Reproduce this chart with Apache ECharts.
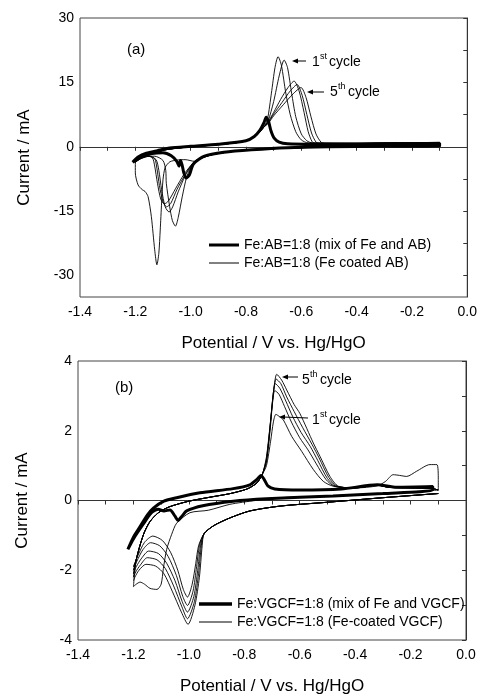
<!DOCTYPE html>
<html>
<head>
<meta charset="utf-8">
<script src="https://cdn.jsdelivr.net/npm/echarts@6/dist/echarts.min.js"></script>
<style>
  html, body { margin: 0; padding: 0; background: #fff; }
  #main { width: 480px; height: 696px; }
</style>
</head>
<body>
<div id="main"></div>
<script>
var FONT = "'Liberation Sans', Arial, sans-serif";

// tick labels
var potentialTicks = [-1.4, -1.2, -1.0, -0.8, -0.6, -0.4, -0.2, 0.0];
var potentialMinor = [-1.4, -1.3, -1.2, -1.1, -1.0, -0.9, -0.8, -0.7, -0.6, -0.5, -0.4, -0.3, -0.2, -0.1, 0.0];
var aCurrentTicks = [-30, -15, 0, 15, 30];
var aCurrentMinor = [-30, -22.5, -15, -7.5, 0, 7.5, 15, 22.5, 30];
var bCurrentTicks = [-4, -2, 0, 2, 4];
var bCurrentMinor = [-4, -3, -2, -1, 0, 1, 2, 3, 4];

var aNames = ['Fe:AB=1:8 (mix of Fe and AB)', 'Fe:AB=1:8 (Fe coated AB)'];
var bNames = ['Fe:VGCF=1:8 (mix of Fe and VGCF)', 'Fe:VGCF=1:8 (Fe-coated VGCF)'];

// ---------- (a) Fe:AB, [potential V, current mA] ----------
var aMix = [[-1.21,-3.6],[-1.19,-2.4],[-1.16,-1.5],[-1.12,-0.9],[-1.076,-0.3],[-1.0,0.1],[-0.9,0.6],
  [-0.8,1.4],[-0.77,2.4],[-0.75,3.8],[-0.735,5.6],[-0.727,6.9],[-0.718,5.8],[-0.71,3.8],[-0.698,2.0],
  [-0.68,1.1],[-0.65,0.7],[-0.55,0.6],[-0.35,0.6],[-0.1,0.8],[-0.1,0.2],[-0.3,0.1],[-0.5,0.0],
  [-0.65,-0.2],[-0.78,-0.7],[-0.88,-1.3],[-0.95,-2.2],[-0.99,-4.0],[-1.004,-6.5],[-1.016,-7.3],
  [-1.025,-6.0],[-1.031,-4.2],[-1.037,-3.2],[-1.042,-4.5],[-1.05,-3.4],[-1.07,-2.1],[-1.1,-1.4],
  [-1.14,-1.6],[-1.18,-2.4],[-1.21,-3.6]];

var aLowerBranch = [[-0.1,0.3],[-0.3,0.15],[-0.5,-0.05],[-0.65,-0.3],[-0.75,-0.6],[-0.85,-1.1],
  [-0.92,-1.8],[-0.96,-2.6],[-0.985,-3.4]];
var aUpperBranch = [[-1.2,-3.6],[-1.185,-2.6],[-1.16,-1.7],[-1.12,-1.0],[-1.06,-0.4],[-1.0,0.0],
  [-0.9,0.5],[-0.82,1.1],[-0.78,2.0],[-0.755,3.2],[-0.735,4.6]];
var aTail = [[-0.4,0.8],[-0.25,0.9],[-0.1,0.9],[-0.1,0.3]];

var aCath1 = [[-1.02,-3.0],[-1.05,-3.1],[-1.075,-3.5],[-1.092,-4.8],[-1.1,-7.7],[-1.105,-13.1],
  [-1.11,-19.4],[-1.115,-24.8],[-1.122,-27.5],[-1.13,-24],[-1.142,-16.3],[-1.154,-11.6],
  [-1.165,-10.4],[-1.175,-10.0],[-1.19,-8.9],[-1.2,-6.1]];
var aCath2 = [[-1.0,-4.8],[-1.015,-7.2],[-1.03,-11.5],[-1.045,-16.5],[-1.055,-18.5],[-1.066,-17.2],
  [-1.076,-13.9],[-1.088,-8.5],[-1.09,-5.5],[-1.1,-3.2],[-1.13,-2.2],[-1.16,-2.3],[-1.19,-3.0]];
var aCath3 = [[-1.0,-4.6],[-1.02,-6.8],[-1.045,-10.5],[-1.065,-14.0],[-1.078,-15.2],[-1.092,-14],
  [-1.105,-10],[-1.115,-5.5],[-1.125,-3.0],[-1.15,-2.2],[-1.18,-2.8]];
var aCath4 = [[-1.0,-4.5],[-1.02,-6.5],[-1.05,-10],[-1.072,-13.2],[-1.087,-14.0],[-1.1,-12.8],
  [-1.113,-9],[-1.122,-5],[-1.13,-2.8],[-1.155,-2.1],[-1.18,-2.7]];
var aCath5 = [[-1.0,-4.4],[-1.025,-6.5],[-1.055,-9.8],[-1.08,-12.6],[-1.095,-13.3],[-1.108,-12.2],
  [-1.12,-8.5],[-1.13,-4.5],[-1.138,-2.6],[-1.16,-2.1],[-1.185,-2.8]];

var aAnod1 = [[-0.72,6.0],[-0.70,10.5],[-0.68,16.5],[-0.662,20.2],[-0.65,18.5],[-0.635,12.5],
  [-0.62,7.0],[-0.6,3.0],[-0.58,1.4],[-0.56,0.9]];
var aAnod2 = [[-0.722,6.5],[-0.708,12.5],[-0.695,18.5],[-0.684,21.0],[-0.672,19.0],[-0.656,12.5],
  [-0.64,7.5],[-0.62,3.5],[-0.6,1.6],[-0.575,0.9]];
var aAnod3 = [[-0.72,5.8],[-0.70,8.0],[-0.675,11.0],[-0.648,13.8],[-0.626,15.3],[-0.608,13.0],
  [-0.59,8.0],[-0.575,3.5],[-0.561,1.2],[-0.55,0.8]];
var aAnod4 = [[-0.72,5.6],[-0.70,7.6],[-0.67,10.3],[-0.64,13.0],[-0.615,14.5],[-0.597,12.0],
  [-0.58,7.5],[-0.563,3.2],[-0.547,1.1],[-0.535,0.8]];
var aAnod5 = [[-0.72,5.4],[-0.70,7.2],[-0.665,9.8],[-0.63,12.3],[-0.601,13.8],[-0.583,11.5],
  [-0.565,7.0],[-0.547,3.0],[-0.529,1.1],[-0.515,0.8]];

// ---------- (b) Fe:VGCF ----------
var bMix = [[-1.22,-1.4],[-1.2,-1.05],[-1.176,-0.75],[-1.15,-0.42],[-1.128,-0.22],[-1.09,-0.02],
  [-1.044,0.08],[-0.96,0.22],[-0.84,0.34],[-0.78,0.45],[-0.755,0.6],[-0.74,0.72],[-0.728,0.6],
  [-0.715,0.42],[-0.69,0.33],[-0.6,0.3],[-0.45,0.33],[-0.32,0.45],[-0.25,0.38],[-0.12,0.4],
  [-0.12,0.3],[-0.3,0.2],[-0.48,0.13],[-0.72,0.05],[-0.84,-0.02],[-0.95,-0.15],[-1.008,-0.3],
  [-1.025,-0.45],[-1.039,-0.57],[-1.05,-0.45],[-1.068,-0.27],[-1.09,-0.3],[-1.11,-0.25],
  [-1.135,-0.35],[-1.165,-0.68],[-1.2,-1.1],[-1.22,-1.4]];

var bFirstSweep = [[-0.1,0.3],[-0.3,0.2],[-0.5,0.13],[-0.671,0.08],[-0.76,0.0],[-0.852,-0.11],
  [-0.93,-0.28],[-0.996,-0.35],[-1.044,-0.65],[-1.062,-0.97],[-1.08,-1.4],[-1.092,-1.95],
  [-1.1,-2.4],[-1.115,-2.55],[-1.14,-2.52],[-1.16,-2.4],[-1.176,-2.34],[-1.19,-2.4],[-1.2,-2.47]];
var bLowerBranch = [[-0.1,0.2],[-0.3,0.08],[-0.5,-0.05],[-0.67,-0.16],[-0.78,-0.3],[-0.852,-0.5],
  [-0.91,-0.72],[-0.945,-0.95]];
var bUpperBranch = [[-1.19,-1.7],[-1.175,-1.25],[-1.16,-0.9],[-1.14,-0.6],[-1.11,-0.35],
  [-1.07,-0.18],[-1.0,-0.02],[-0.92,0.1],[-0.85,0.2],[-0.79,0.33],[-0.755,0.5],[-0.735,0.75]];

var bCath2 = [[-0.965,-1.3],[-0.975,-1.8],[-0.988,-2.4],[-1.005,-2.77],[-1.02,-2.55],[-1.04,-2.0],
  [-1.065,-1.5],[-1.095,-1.15],[-1.13,-1.02],[-1.16,-1.2],[-1.185,-1.6],[-1.2,-1.9]];
var bCath3 = [[-0.962,-1.3],[-0.972,-1.9],[-0.985,-2.6],[-1.005,-3.01],[-1.022,-2.75],[-1.045,-2.15],
  [-1.075,-1.6],[-1.105,-1.3],[-1.138,-1.21],[-1.165,-1.4],[-1.188,-1.75],[-1.2,-2.0]];
var bCath4 = [[-0.958,-1.3],[-0.968,-2.0],[-0.982,-2.75],[-1.005,-3.2],[-1.024,-2.9],[-1.05,-2.3],
  [-1.08,-1.8],[-1.11,-1.52],[-1.145,-1.45],[-1.17,-1.65],[-1.19,-1.9],[-1.2,-2.1]];
var bCath5 = [[-0.955,-1.3],[-0.965,-2.1],[-0.98,-2.9],[-1.005,-3.39],[-1.025,-3.05],[-1.055,-2.45],
  [-1.085,-1.95],[-1.115,-1.7],[-1.15,-1.64],[-1.175,-1.85],[-1.192,-2.05],[-1.2,-2.2]];
var bCathLast = [[-0.952,-1.3],[-0.962,-2.2],[-0.978,-3.0],[-1.003,-3.55],[-1.027,-3.2],[-1.06,-2.6],
  [-1.09,-2.1],[-1.12,-1.88],[-1.155,-1.83],[-1.18,-2.0],[-1.195,-2.2],[-1.2,-2.3]];

var bAnod1 = [[-0.72,1.0],[-0.705,1.7],[-0.695,2.25],[-0.686,2.47],[-0.672,2.4],[-0.659,2.31],
  [-0.629,1.84],[-0.593,1.41],[-0.551,0.89],[-0.515,0.55],[-0.479,0.41]];
var bAnod2 = [[-0.72,1.1],[-0.707,2.0],[-0.698,2.8],[-0.69,3.15],[-0.675,3.05],[-0.655,2.7],
  [-0.63,2.25],[-0.6,1.8],[-0.57,1.45],[-0.54,1.05],[-0.505,0.6],[-0.475,0.41]];
var bAnod3 = [[-0.72,1.15],[-0.707,2.1],[-0.697,2.95],[-0.688,3.35],[-0.672,3.22],[-0.65,2.85],
  [-0.625,2.4],[-0.595,1.95],[-0.562,1.55],[-0.535,1.15],[-0.5,0.63],[-0.47,0.41]];
var bAnod4 = [[-0.72,1.2],[-0.706,2.2],[-0.695,3.1],[-0.685,3.48],[-0.668,3.35],[-0.647,2.97],
  [-0.62,2.55],[-0.59,2.1],[-0.555,1.6],[-0.53,1.22],[-0.495,0.66],[-0.465,0.41]];
var bAnod5 = [[-0.72,1.25],[-0.705,2.3],[-0.693,3.2],[-0.683,3.62],[-0.665,3.45],[-0.647,3.17],
  [-0.62,2.75],[-0.599,2.49],[-0.551,1.65],[-0.527,1.27],[-0.491,0.69],[-0.461,0.41]];

var bTail1 = [[-0.4,0.36],[-0.32,0.42],[-0.29,0.55],[-0.263,0.74],[-0.24,0.72],[-0.214,0.69],
  [-0.178,0.84],[-0.13,1.03],[-0.105,1.03],[-0.1,0.6],[-0.1,0.3]];
var bTail = [[-0.4,0.36],[-0.32,0.44],[-0.28,0.38],[-0.2,0.36],[-0.12,0.34],[-0.1,0.3]];

// build the loops
function join() {
  var out = [];
  for (var i = 0; i < arguments.length; i++) out = out.concat(arguments[i]);
  return out;
}
var aCycles = [
  join(aLowerBranch, aCath1, aUpperBranch, aAnod1, aTail),
  join(aLowerBranch, aCath2, aUpperBranch, aAnod2, aTail),
  join(aLowerBranch, aCath3, aUpperBranch, aAnod3, aTail),
  join(aLowerBranch, aCath4, aUpperBranch, aAnod4, aTail),
  join(aLowerBranch, aCath5, aUpperBranch, aAnod5, aTail)
];
var bCycles = [
  join(bFirstSweep, bUpperBranch, bAnod1, bTail1),
  join(bLowerBranch, bCath2, bUpperBranch, bAnod2, bTail),
  join(bLowerBranch, bCath3, bUpperBranch, bAnod3, bTail),
  join(bLowerBranch, bCath4, bUpperBranch, bAnod4, bTail),
  join(bLowerBranch, bCath5, bUpperBranch, bAnod5, bTail),
  join(bLowerBranch, bCathLast)
];

function curve(name, data, idx, width) {
  return {
    name: name, type: 'line', data: data, xAxisIndex: idx, yAxisIndex: idx,
    symbol: 'none', showSymbol: false, smooth: 0.25, silent: true,
    lineStyle: { color: '#000', width: width }, itemStyle: { color: '#000' }
  };
}

var series = [];
aCycles.forEach(function (d) { series.push(curve(aNames[1], d, 0, 0.9)); });
series.push(curve(aNames[0], aMix, 0, 3));
bCycles.forEach(function (d) { series.push(curve(bNames[1], d, 1, 0.9)); });
series.push(curve(bNames[0], bMix, 1, 3));

function xAxisFor(idx) {
  return {
    type: 'value', gridIndex: idx, min: -1.4, max: 0,
    name: 'Potential / V vs. Hg/HgO', nameLocation: 'middle', nameGap: 38,
    nameTextStyle: { fontSize: 17, fontFamily: FONT, color: '#000' },
    axisLine: { lineStyle: { color: '#333', width: 1 } },
    axisTick: { customValues: potentialMinor, length: 4, lineStyle: { color: '#333' } },
    axisLabel: { customValues: potentialTicks, margin: 8, fontSize: 14, fontFamily: FONT, color: '#000',
      formatter: function (v) { return v.toFixed(1); } },
    splitLine: { show: false }
  };
}
function yAxisFor(idx, min, max, ticks, minor) {
  return {
    type: 'value', gridIndex: idx, min: min, max: max,
    name: 'Current / mA', nameLocation: 'middle', nameGap: 47,
    nameTextStyle: { fontSize: 17, fontFamily: FONT, color: '#000' },
    axisLine: { show: true, lineStyle: { color: '#333', width: 1 } },
    axisTick: { show: true, customValues: minor, length: 4, lineStyle: { color: '#333' } },
    axisLabel: { customValues: ticks, margin: 6, fontSize: 14, fontFamily: FONT, color: '#000' },
    splitLine: { show: false }
  };
}

// legend keys: a thick bar and a thin bar
var THICK_KEY = 'path://M0,0h30v3h-30z';
var THIN_KEY = 'path://M0,0h30v1h-30z';
function legendFor(names, left, top, w) {
  return {
    data: [{ name: names[0], icon: THICK_KEY }, { name: names[1], icon: THIN_KEY }],
    orient: 'vertical', left: left, top: top,
    itemWidth: w, itemHeight: 12, itemGap: 4, selectedMode: false,
    itemStyle: { color: '#000' },
    textStyle: { fontSize: 14, fontFamily: FONT, color: '#000' }
  };
}

// annotation helpers
function label(x, y, text, size) {
  return { type: 'text', silent: true, style: { x: x, y: y, text: text, fill: '#000',
    font: size + 'px ' + FONT, textVerticalAlign: 'middle' } };
}
function cycleLabel(x, y, num, sup) {
  return [
    label(x, y, num, 14),
    label(x + 8, y - 5, sup, 9),
    label(x + 8 + (sup === 'st' ? 9 : 10), y, 'cycle', 14)
  ];
}
function arrow(tipX, tailX, y1, y2) {
  return [
    { type: 'polyline', silent: true, shape: { points: [[tipX + 4, y1], [tailX, y2]] },
      style: { stroke: '#000', lineWidth: 1 } },
    { type: 'polygon', silent: true, shape: { points: [[tipX, y1], [tipX + 6, y1 - 2.5], [tipX + 6, y1 + 2.5]] },
      style: { fill: '#000' } }
  ];
}

var graphics = [label(127, 50, '(a)', 15), label(115, 388, '(b)', 15)]
  .concat(cycleLabel(312, 62, '1', 'st'))
  .concat(cycleLabel(330, 92, '5', 'th'))
  .concat(cycleLabel(302, 380, '5', 'th'))
  .concat(cycleLabel(312, 420, '1', 'st'))
  .concat(arrow(292, 306, 61, 61))
  .concat(arrow(307, 324, 92, 92))
  .concat(arrow(282, 298, 377, 377))
  .concat(arrow(279, 308, 417, 418));

var chart = echarts.init(document.getElementById('main'), null, { renderer: 'canvas' });
chart.setOption({
  animation: false,
  backgroundColor: '#fff',
  grid: [
    { left: 80, top: 18, width: 389, height: 279, show: true, borderColor: '#444', borderWidth: 1 },
    { left: 78, top: 361, width: 388, height: 279, show: true, borderColor: '#444', borderWidth: 1 }
  ],
  xAxis: [xAxisFor(0), xAxisFor(1)],
  yAxis: [
    yAxisFor(0, -35, 30, aCurrentTicks, aCurrentMinor),
    yAxisFor(1, -4, 4, bCurrentTicks, bCurrentMinor)
  ],
  legend: [legendFor(aNames, 204, 233, 30), legendFor(bNames, 194, 592, 33)],
  graphic: graphics,
  series: series
});
</script>
</body>
</html>
